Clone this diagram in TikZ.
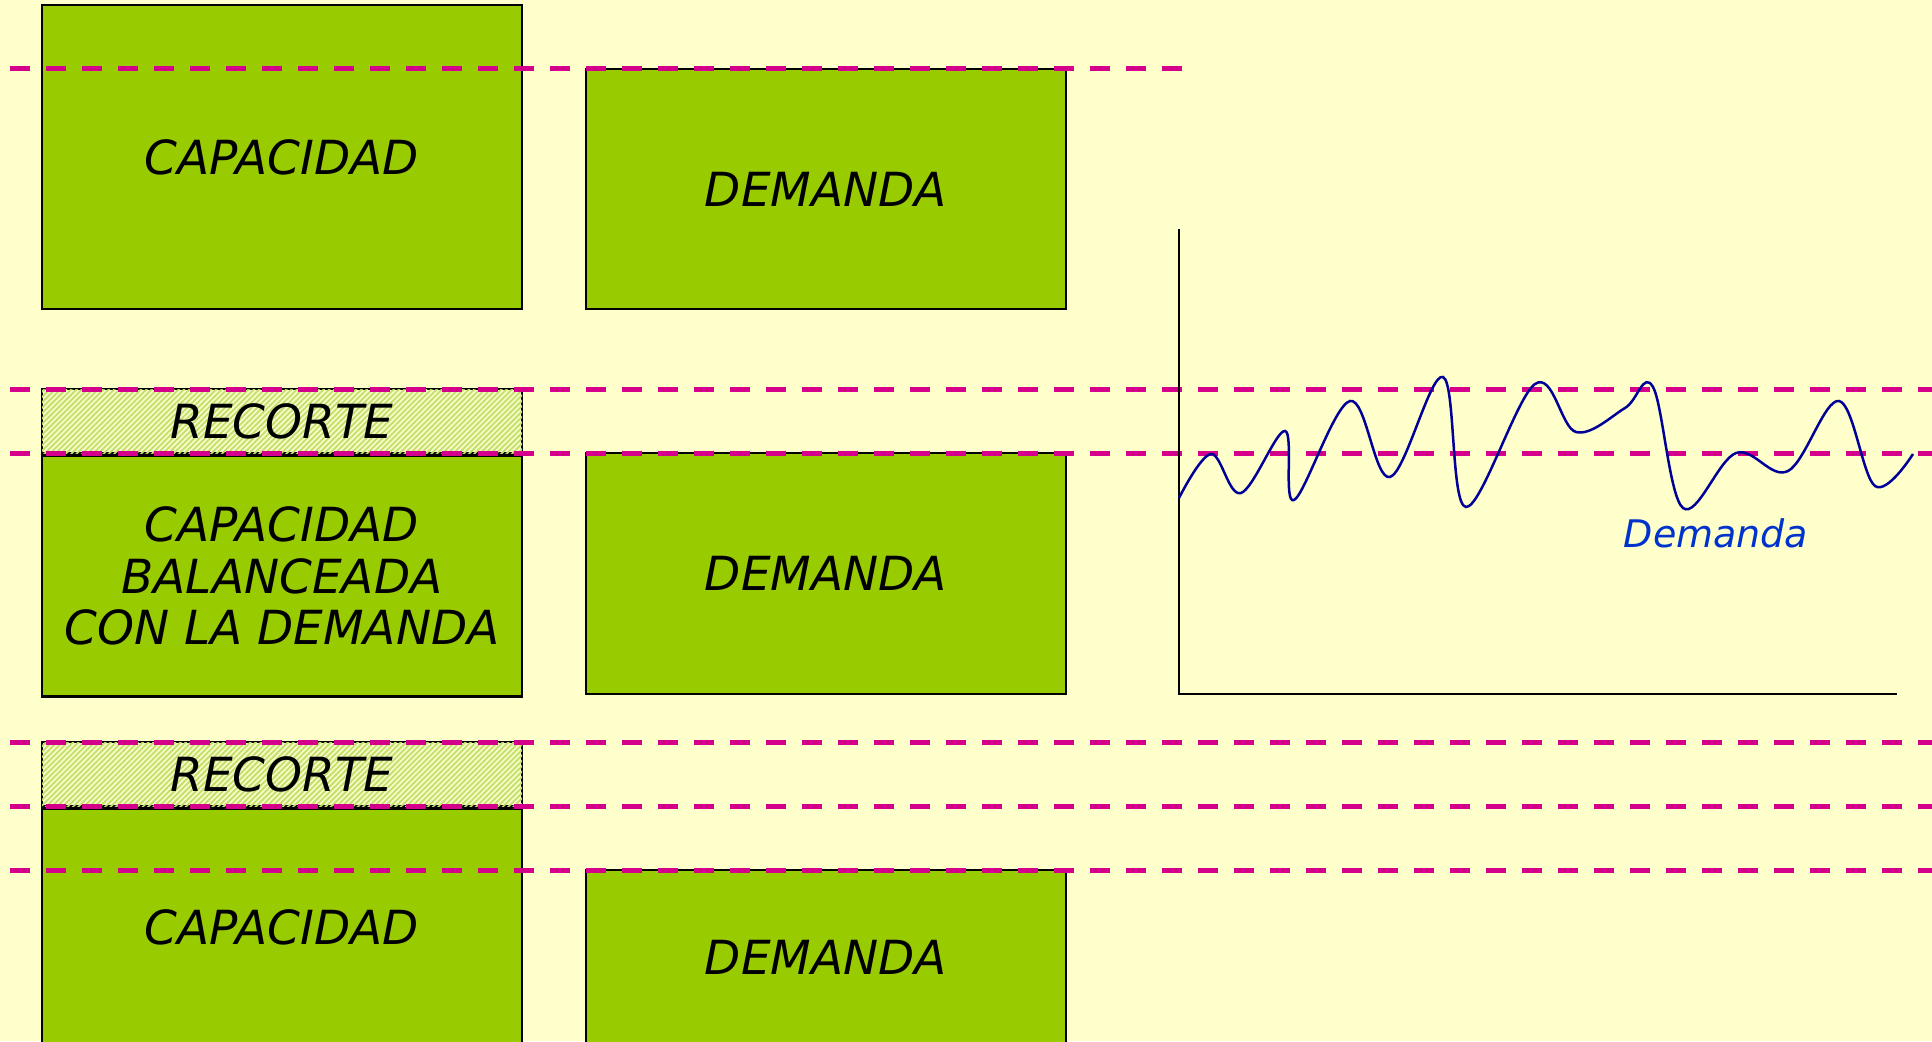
\documentclass[tikz,border=0pt]{standalone}
\usepackage{fontspec}
\setmainfont{DejaVu Sans}
\usetikzlibrary{positioning,patterns.meta}
\definecolor{bgY}{HTML}{FFFFCC}
\definecolor{boxG}{HTML}{99CC00}
\definecolor{cutG}{HTML}{C2DF6A}
\definecolor{cutBg}{HTML}{F8FCC8}
\definecolor{lvlM}{HTML}{D4008C}
\definecolor{dmdB}{HTML}{000099}
\definecolor{lblB}{HTML}{0033CC}
\begin{document}
\begin{tikzpicture}[x=1pt,y=-1pt,
  box/.style={draw=black,line width=2.5pt,fill=boxG,minimum width=480pt,inner sep=0pt,
    font=\fontsize{47}{51.5}\selectfont\itshape,align=center},
  cut/.style={box,fill=cutBg,minimum height=64pt,
    postaction={pattern={Lines[angle=45,distance=3.8pt,line width=1.8pt]},pattern color=cutG}},
  lvl/.style={draw=lvlM,line width=5pt,dash pattern=on 20pt off 16pt},
  ax/.style={draw=black,line width=2pt}]
\useasboundingbox (0,0) rectangle (1932,1041);
\clip (0,0) rectangle (1932,1041);
\fill[bgY] (0,0) rectangle (1932,1041);
% row 1
\node[box,minimum height=304pt] (capA) at (282,157) {CAPACIDAD};
\node[box,minimum height=240pt] (demA) at (826,189) {DEMANDA};
% row 2
\node[cut] (cutB) at (282,421) {RECORTE};
\node[box,minimum height=241pt,below=0pt of cutB] (capB) {CAPACIDAD\\BALANCEADA\\CON LA DEMANDA};
\node[box,minimum height=241pt] (demB) at (826,573.5) {DEMANDA};
% row 3
\node[cut] (cutC) at (282,774) {RECORTE};
\node[box,minimum height=238pt,below=0pt of cutC] (capC) {CAPACIDAD};
\node[box,minimum height=174pt] (demC) at (826,957) {DEMANDA};
% levels
\draw[lvl] (10,69) -- (1189,69);
\foreach \y in {389,453,742,806,870}
  \draw[lvl] (10,\y) -- (1932,\y);
% chart
\coordinate (yTop) at (1179,229);
\coordinate (org) at (1179,694);
\coordinate (xEnd) at (1897,694);
\draw[ax] (yTop) -- (org) -- (xEnd);
\draw[dmdB,line width=2.5pt] plot[smooth,tension=0.6] coordinates {
  (1179,498) (1211,454) (1241,493) (1285,431) (1294,500) (1350,401)
  (1390,477) (1443,377) (1466,507) (1535,384) (1576,432) (1625,408)
  (1653,387) (1683,508) (1736,453) (1788,471) (1839,401) (1875,486)
  (1913,454)};
\node[lblB,font=\fontsize{38}{40}\selectfont\itshape] (dmdLbl) at (1716,533) {Demanda};
\end{tikzpicture}
\end{document}
